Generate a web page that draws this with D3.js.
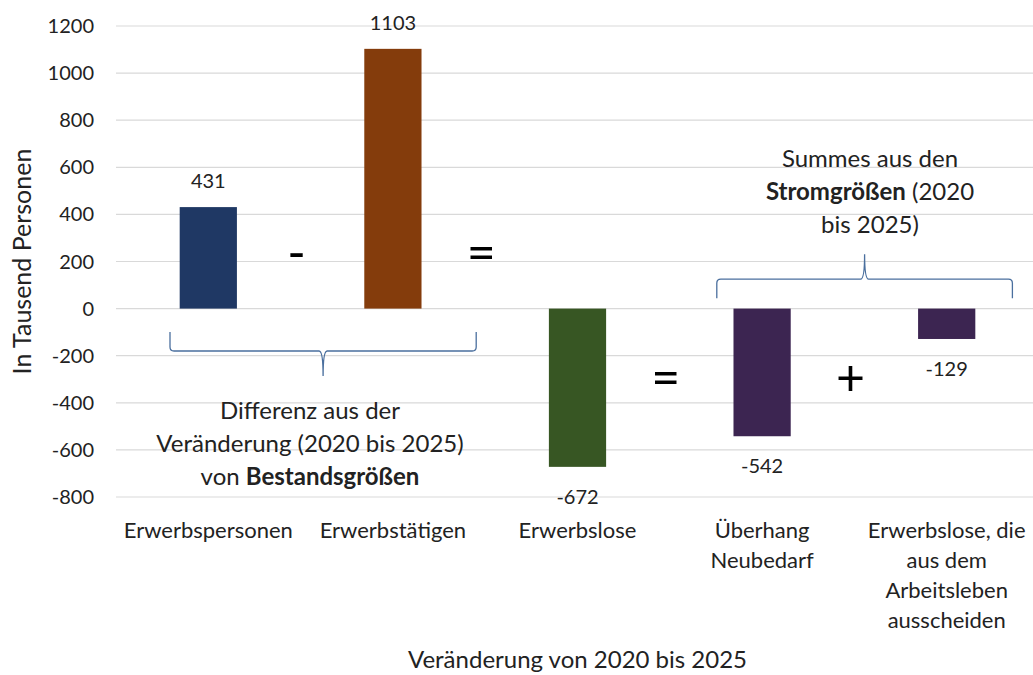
<!DOCTYPE html>
<html>
<head>
<meta charset="utf-8">
<script src="https://cdn.jsdelivr.net/npm/d3@7"></script>
<style>
  body { margin: 0; background: #fff; }
  text { font-family: Lato, "Open Sans", sans-serif; fill: #222; }
</style>
</head>
<body>
<div id="chart"></div>
<script>
// data
let categories = ["Erwerbspersonen", "Erwerbstätigen", "Erwerbslose", "Überhang Neubedarf", "Erwerbslose, die aus dem Arbeitsleben ausscheiden"];
let catLines = [["Erwerbspersonen"], ["Erwerbstätigen"], ["Erwerbslose"], ["Überhang", "Neubedarf"], ["Erwerbslose, die", "aus dem", "Arbeitsleben", "ausscheiden"]];
let values = [431, 1103, -672, -542, -129];
let barColors = ["#1f3864", "#843c0c", "#375623", "#3c2551", "#3c2551"];
let yTicks = [-800, -600, -400, -200, 0, 200, 400, 600, 800, 1000, 1200];

// operators between the bars: [left band index, y value, symbol]
let operators = [[0, 230, "-"], [1, 230, "="], [2, -300, "="], [3, -300, "+"]];

let width = 1033, height = 675;
let svg = d3.select("#chart").append("svg")
    .attr("width", width)
    .attr("height", height);

//----------------------------------------
// scales
let x = d3.scaleBand()
    .domain(categories)
    .range([116, 1039])
    .padding(0);
let barW = x.bandwidth() * 0.31;

let y = d3.scaleLinear()
    .domain([-800, 1200])
    .range([497, 26]);

//----------------------------------------
// grid + tick labels
svg.append("g").selectAll("line")
    .data(yTicks)
    .enter().append("line")
    .attr("x1", 116).attr("x2", width)
    .attr("y1", d => y(d)).attr("y2", d => y(d))
    .style("stroke", "#d9d9d9")
    .style("stroke-width", 1.2);

svg.append("g").selectAll("text")
    .data(yTicks)
    .enter().append("text")
    .attr("x", 94)
    .attr("y", d => y(d) + 7)
    .attr("text-anchor", "end")
    .style("font-size", "20px")
    .text(d => d);

svg.append("text")
    .attr("transform", "translate(31," + y(200) + ") rotate(-90)")
    .attr("text-anchor", "middle")
    .style("font-size", "25px")
    .text("In Tausend Personen");

//----------------------------------------
// bars
svg.append("g").selectAll("rect")
    .data(values)
    .enter().append("rect")
    .attr("x", (d, i) => x(categories[i]) + x.bandwidth() / 2 - barW / 2)
    .attr("y", d => y(Math.max(0, d)))
    .attr("width", barW)
    .attr("height", d => Math.abs(y(d) - y(0)))
    .style("fill", (d, i) => barColors[i]);

// value labels
svg.append("g").selectAll("text")
    .data(values)
    .enter().append("text")
    .attr("x", (d, i) => x(categories[i]) + x.bandwidth() / 2)
    .attr("y", d => d >= 0 ? y(d) - 19 : y(d) + 37)
    .attr("text-anchor", "middle")
    .style("font-size", "20px")
    .text(d => d);

// category labels
let catG = svg.append("g").selectAll("text")
    .data(catLines)
    .enter().append("text")
    .attr("text-anchor", "middle")
    .style("font-size", "22px");
catG.selectAll("tspan")
    .data((d, i) => d.map(l => [l, i]))
    .enter().append("tspan")
    .attr("x", d => x(categories[d[1]]) + x.bandwidth() / 2)
    .attr("y", (d, j) => 538 + j * 30)
    .text(d => d[0]);

svg.append("text")
    .attr("x", x(categories[2]) + x.bandwidth() / 2)
    .attr("y", 668)
    .attr("text-anchor", "middle")
    .style("font-size", "24px")
    .text("Veränderung von 2020 bis 2025");

//----------------------------------------
// operators
svg.append("g").selectAll("text")
    .data(operators)
    .enter().append("text")
    .attr("x", d => x(categories[d[0]]) + x.bandwidth() - 4)
    .attr("y", d => y(d[1]) + 16)
    .attr("text-anchor", "middle")
    .style("font-size", "50px")
    .style("fill", "#000")
    .text(d => d[2]);

//----------------------------------------
// curly braces
function brace(x1, x2, yLine, dir) {
    // dir = 1 -> tip points down, -1 -> tip points up
    let xm = (x1 + x2) / 2, h = 19 * dir, t = 25 * dir, r = 4;
    return "M" + x1 + "," + (yLine - h) +
        " L" + x1 + "," + (yLine - r * dir) +
        " Q" + x1 + "," + yLine + " " + (x1 + r) + "," + yLine +
        " L" + (xm - r) + "," + yLine +
        " Q" + xm + "," + yLine + " " + xm + "," + (yLine + t) +
        " Q" + xm + "," + yLine + " " + (xm + r) + "," + yLine +
        " L" + (x2 - r) + "," + yLine +
        " Q" + x2 + "," + yLine + " " + x2 + "," + (yLine - r * dir) +
        " L" + x2 + "," + (yLine - h);
}

svg.append("path")
    .attr("d", brace(x(categories[0]) + 54, x(categories[1]) + x.bandwidth() - 9, y(-180), 1))
    .style("fill", "none")
    .style("stroke", "#4a6f9e")
    .style("stroke-width", 1.3);

svg.append("path")
    .attr("d", brace(x(categories[3]) + 47, x(categories[4]) + 158, y(125), -1))
    .style("fill", "none")
    .style("stroke", "#4a6f9e")
    .style("stroke-width", 1.3);

//----------------------------------------
// brace annotations
function note(cx, yTop, lines) {
    let t = svg.append("text")
        .attr("text-anchor", "middle")
        .style("font-size", "24px");
    lines.forEach((parts, j) => {
        parts.forEach((p, k) => {
            let s = t.append("tspan").text(p[0]);
            if (k === 0) s.attr("x", cx).attr("y", yTop + j * 33);
            if (p[1]) s.style("font-weight", "bold");
        });
    });
}

note(310, 419, [[["Differenz aus der"]], [["Veränderung (2020 bis 2025)"]], [["von "], ["Bestandsgrößen", true]]]);
note(870, 167, [[["Summes aus den"]], [["Stromgrößen", true], [" (2020"]], [["bis 2025)"]]]);
</script>
</body>
</html>
